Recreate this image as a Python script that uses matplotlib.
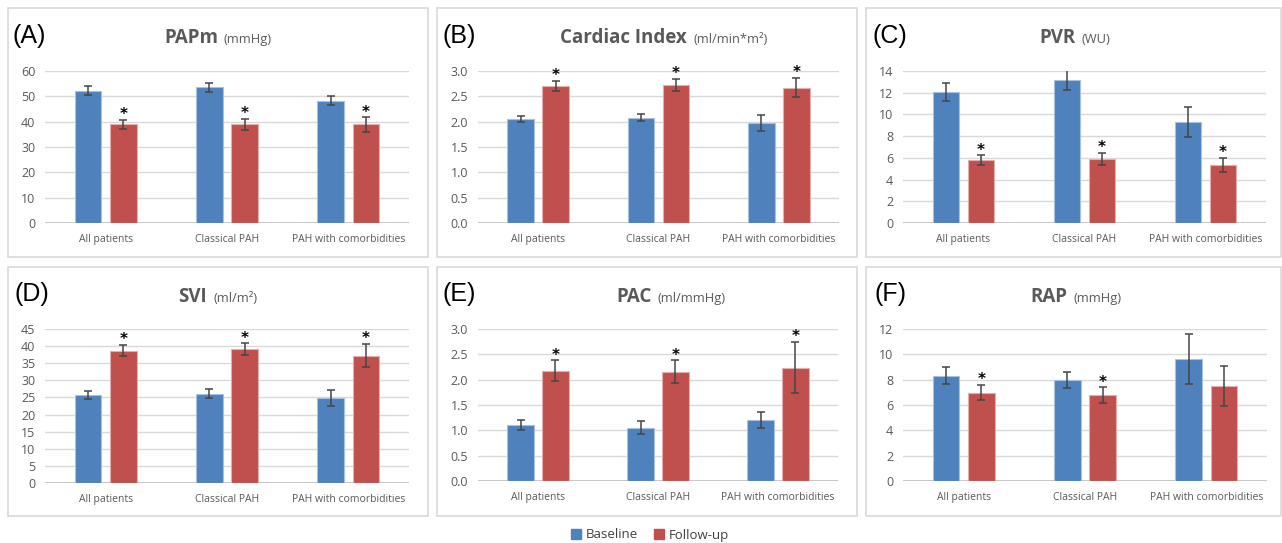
import matplotlib
matplotlib.use("Agg")
import matplotlib.pyplot as plt
from matplotlib.patches import Rectangle, Patch
import numpy as np

# ---------------- data ----------------
categories = ["All patients", "Classical PAH", "PAH with comorbidities"]
series_names = ["Baseline", "Follow-up"]

papm_base = [52.3, 53.6, 48.3]
papm_base_err = [1.8, 1.7, 1.7]
papm_follow = [38.9, 38.9, 38.9]
papm_follow_err = [1.7, 2.1, 2.8]

ci_base = [2.05, 2.08, 1.97]
ci_base_err = [0.065, 0.07, 0.155]
ci_follow = [2.71, 2.72, 2.67]
ci_follow_err = [0.10, 0.12, 0.19]

pvr_base = [12.07, 13.14, 9.31]
pvr_base_err = [0.87, 0.92, 1.36]
pvr_follow = [5.76, 5.88, 5.33]
pvr_follow_err = [0.46, 0.57, 0.67]

svi_base = [25.6, 26.1, 24.8]
svi_base_err = [1.2, 1.4, 2.35]
svi_follow = [38.7, 39.05, 37.2]
svi_follow_err = [1.6, 1.75, 3.4]

pac_base = [1.10, 1.05, 1.20]
pac_base_err = [0.10, 0.13, 0.16]
pac_follow = [2.18, 2.16, 2.24]
pac_follow_err = [0.20, 0.22, 0.50]

rap_base = [8.32, 7.97, 9.6]
rap_base_err = [0.67, 0.66, 1.97]
rap_follow = [6.97, 6.79, 7.5]
rap_follow_err = [0.6, 0.6, 1.55]

panel_letters = ["(A)", "(B)", "(C)", "(D)", "(E)", "(F)"]
titles = ["PAPm", "Cardiac Index", "PVR", "SVI", "PAC", "RAP"]
units = ["(mmHg)", "(ml/min*m\u00b2)", "(WU)", "(ml/m\u00b2)", "(ml/mmHg)", "(mmHg)"]
y_max = [60, 3.0, 14, 45, 3.0, 12]
y_step = [10, 0.5, 2, 5, 0.5, 2]
y_fmt = ["{:.0f}", "{:.1f}", "{:.0f}", "{:.0f}", "{:.1f}", "{:.0f}"]
significant = [
    [True, True, True],
    [True, True, True],
    [True, True, True],
    [True, True, True],
    [True, True, True],
    [True, True, False],
]
base_vals = [papm_base, ci_base, pvr_base, svi_base, pac_base, rap_base]
base_errs = [papm_base_err, ci_base_err, pvr_base_err, svi_base_err, pac_base_err, rap_base_err]
follow_vals = [papm_follow, ci_follow, pvr_follow, svi_follow, pac_follow, rap_follow]
follow_errs = [papm_follow_err, ci_follow_err, pvr_follow_err, svi_follow_err, pac_follow_err, rap_follow_err]

# ---------------- style ----------------
W, H = 1282, 543
BLUE = "#4F81BD"
RED = "#C0504D"
GRAY_TXT = "#595959"
GRID = "#D9D9D9"
FONT = "Open Sans"

fig = plt.figure(figsize=(W / 100, H / 100), dpi=100)


def fx(px):
    return px / W


def fy(py):
    return 1 - py / H


# axes rectangles in pixels: (x0, x1, ytop, ybottom)
axes_px = [
    (45, 409, 71, 223),
    (478, 839, 71, 223),
    (903, 1266, 71, 223),
    (45, 409, 329, 483),
    (478, 838, 329, 481),
    (903, 1267, 329, 481),
]
boxes_px = [
    (8, 428, 8, 257),
    (437, 857, 8, 257),
    (866, 1281, 8, 257),
    (8, 428, 267, 516),
    (437, 857, 267, 516),
    (866, 1281, 267, 516),
]
title_center_px = [(218, 43), (664, 43), (1075, 43), (218, 302), (671, 302), (1076, 302)]
letter_px = [(13, 36), (443, 36), (873, 36), (14, 294), (443, 294), (874, 294)]

for bx0, bx1, by0, by1 in boxes_px:
    fig.patches.append(Rectangle((fx(bx0), fy(by1)), fx(bx1 - bx0), (by1 - by0) / H,
                                 transform=fig.transFigure, facecolor="none",
                                 edgecolor=GRID, lw=1.2))

x = np.arange(len(categories))
bw = 0.22
off = 0.145

for i in range(6):
    x0, x1, yt, yb = axes_px[i]
    ax = fig.add_axes([fx(x0), fy(yb), fx(x1 - x0), (yb - yt) / H])
    ax.bar(x - off, base_vals[i], bw, color=BLUE, edgecolor="#A9C1E0", lw=0.8, zorder=3)
    ax.bar(x + off, follow_vals[i], bw, color=RED, edgecolor="#E3AFAE", lw=0.8, zorder=3)
    ax.errorbar(x - off, base_vals[i], yerr=base_errs[i], fmt="none", ecolor="#454545",
                elinewidth=1.1, capsize=3, capthick=1.1, zorder=4)
    ax.errorbar(x + off, follow_vals[i], yerr=follow_errs[i], fmt="none", ecolor="#454545",
                elinewidth=1.1, capsize=3, capthick=1.1, zorder=4)
    for j in range(len(categories)):
        if significant[i][j]:
            ax.annotate("*", (x[j] + off, follow_vals[i][j] + follow_errs[i][j]),
                        xytext=(0, 0.5), textcoords="offset points", ha="center",
                        va="baseline", fontsize=11, fontweight="bold", color="black",
                        annotation_clip=False, family="DejaVu Sans")
    ax.set_xlim(-0.5, len(categories) - 0.5)
    ax.set_ylim(0, y_max[i])
    ticks = np.arange(0, y_max[i] + y_step[i] / 2, y_step[i])
    ax.set_yticks(ticks)
    ax.set_yticklabels([y_fmt[i].format(t) for t in ticks], family=FONT, fontsize=9,
                       color=GRAY_TXT)
    ax.set_xticks(x)
    ax.set_xticklabels(categories, family=FONT, fontsize=7.5, color=GRAY_TXT)
    ax.tick_params(axis="both", length=0)
    ax.tick_params(axis="y", pad=7)
    ax.tick_params(axis="x", pad=8)
    for s in ax.spines.values():
        s.set_visible(False)
    ax.yaxis.grid(True, color=GRID, lw=1)
    ax.set_axisbelow(True)
    ax.axhline(0, color="#BFBFBF", lw=1.2, zorder=2)
    ax.patch.set_alpha(0)

    # panel letter
    lx, ly = letter_px[i]
    fig.text(fx(lx), fy(ly), panel_letters[i], family="Liberation Sans", fontsize=18,
             ha="left", va="center", color="black")

# titles: bold name + normal unit, centred together
renderer = fig.canvas.get_renderer()
for i in range(6):
    cx, by = title_center_px[i]
    t1 = fig.text(0, fy(by), titles[i], family=FONT, fontweight="bold", fontsize=13.5,
                  color=GRAY_TXT, ha="left", va="baseline")
    t2 = fig.text(0, fy(by), units[i], family=FONT, fontsize=9.3, color=GRAY_TXT,
                  ha="left", va="baseline")
    w1 = t1.get_window_extent(renderer).width
    w2 = t2.get_window_extent(renderer).width
    gap = 6
    total = w1 + gap + w2
    start = cx - total / 2
    t1.set_x(fx(start))
    t2.set_x(fx(start + w1 + gap))

handles = [Patch(facecolor=BLUE, edgecolor=BLUE), Patch(facecolor=RED, edgecolor=RED)]
fig.legend(handles, series_names, loc="center", bbox_to_anchor=(fx(650), fy(535)), ncol=2,
           frameon=False, handlelength=0.75, handleheight=0.75, handletextpad=0.35,
           columnspacing=1.2, prop={"family": FONT, "size": 9.5}, labelcolor="#404040")

fig.savefig("out.png", dpi=100)
